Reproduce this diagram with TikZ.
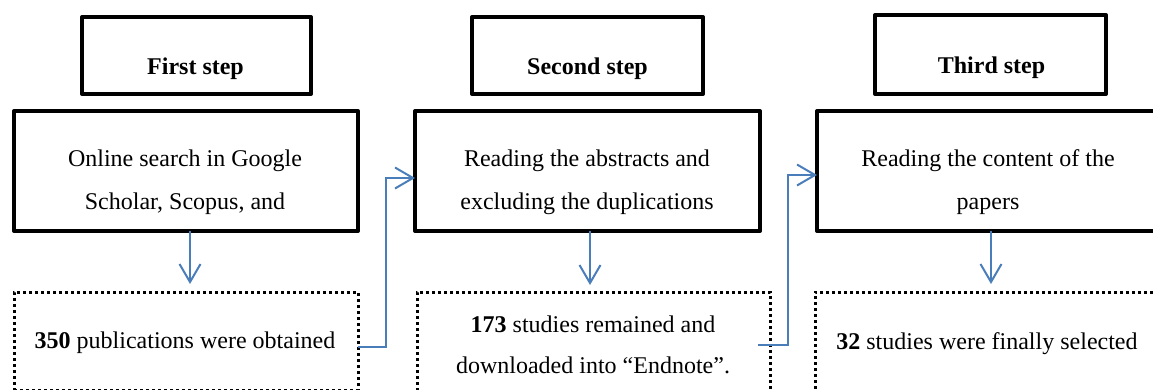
\documentclass[tikz,border=0pt]{standalone}
\usepackage{fontspec}
\setmainfont{Liberation Serif}
\usetikzlibrary{arrows.meta}
\definecolor{flowblue}{HTML}{4A7EBB}
\tikzset{
  boxbase/.style={draw=black, rectangle, inner sep=0pt, outer sep=0pt, line join=round},
  titlebox/.style={boxbase, line width=4pt},
  mainbox/.style={boxbase, line width=4pt, minimum height=120pt},
  dotbox/.style={draw=black, rectangle, inner sep=0pt, outer sep=0pt, line width=3pt, dash pattern=on 3pt off 3pt},
  txt/.style={inner sep=0pt, anchor=base, font=\fontsize{24}{42}\selectfont},
  flow/.style={draw=flowblue, line width=2pt, -{Straight Barb[length=18pt,width=21pt,line width=2pt]}}
}
\begin{document}
\begin{tikzpicture}[x=1pt,y=-1pt]
\useasboundingbox (0,0) rectangle (1153,390);
% title boxes
\node[titlebox, minimum width=229pt, minimum height=77pt] (t1) at (196.5,55.5) {};
\node[titlebox, minimum width=231pt, minimum height=77pt] (t2) at (587.5,55.5) {};
\node[titlebox, minimum width=231pt, minimum height=79pt] (t3) at (990.5,54.5) {};
\node[txt] (t1a) at (195.5,75) {\textbf{First step}};
\node[txt] (t2a) at (587.5,75) {\textbf{Second step}};
\node[txt] (t3a) at (991.5,74) {\textbf{Third step}};
% main boxes
\node[mainbox, minimum width=344pt] (m1) at (186,171) {};
\node[mainbox, minimum width=345pt] (m2) at (587.5,171) {};
\node[mainbox, minimum width=343pt] (m3) at (988.5,171) {};
\node[txt] (m1a) at (185,167) {Online search in Google};
\node[txt] (m1b) at (185,209) {Scholar, Scopus, and};
\node[txt] (m2a) at (587,167) {Reading the abstracts and};
\node[txt] (m2b) at (587,209) {excluding the duplications};
\node[txt] (m3a) at (988,167) {Reading the content of the};
\node[txt] (m3b) at (988,210) {papers};
% dotted boxes
\node[dotbox, minimum width=344pt, minimum height=98pt] (d1) at (186,341) {};
\node[dotbox, minimum width=353pt, minimum height=110pt] (d2) at (593.5,347) {};
\node[dotbox, minimum width=345pt, minimum height=110pt] (d3) at (987.5,347) {};
\node[txt] (d1a) at (185,348) {\textbf{350} publications were obtained};
\node[txt] (d2a) at (593,332) {\textbf{173} studies remained and};
\node[txt] (d2b) at (593,373) {downloaded into “Endnote”.};
\node[txt] (d3a) at (987,349) {\textbf{32} studies were finally selected};
% connectors
\draw[flow] ([xshift=4pt]m1.south) -- ([xshift=4pt,yshift=8pt]d1.north);
\draw[flow] ([xshift=2.5pt]m2.south) -- ([xshift=-3.5pt,yshift=7pt]d2.north);
\draw[flow] ([xshift=2.5pt]m3.south) -- ([xshift=3.5pt,yshift=8pt]d3.north);
\draw[flow] ([yshift=-6pt]d1.east) -- ++(28,0) |- ([yshift=-7pt]m2.west);
\draw[flow] ([xshift=-12pt,yshift=2pt]d2.east) -- ++(30,0) |- ([yshift=-4pt]m3.west);
\end{tikzpicture}
\end{document}
